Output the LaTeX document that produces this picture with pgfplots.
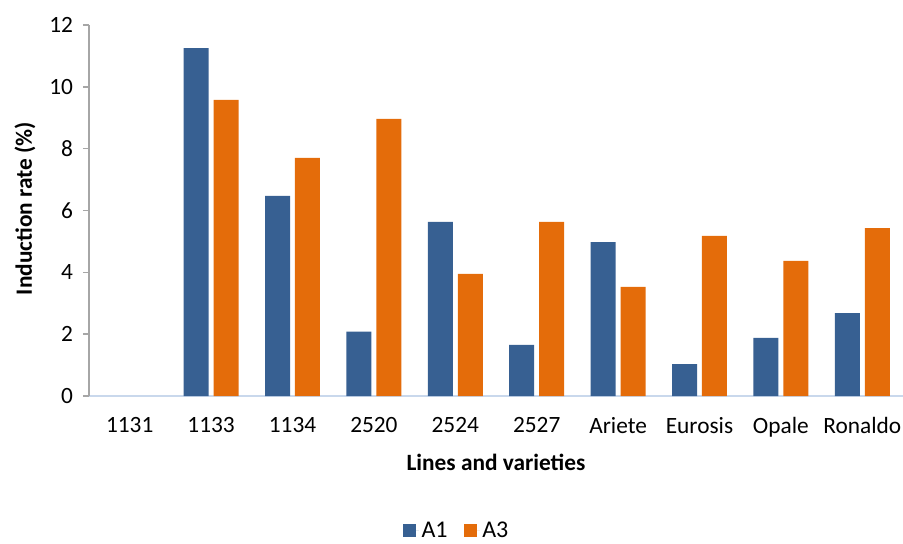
\documentclass[border=0pt]{standalone}
\usepackage{pgfplots}
\pgfplotsset{compat=1.18}
\usepackage{fontspec}
\setmainfont{Carlito}
\definecolor{cA}{HTML}{376092}
\definecolor{cB}{HTML}{E46C0A}
\definecolor{yax}{HTML}{A6A6A6}
\definecolor{xax}{HTML}{C9D8EC}
\begin{document}
\begin{tikzpicture}[x=0.75pt,y=0.75pt]
\useasboundingbox (-89,-147) rectangle (814,396);
\begin{axis}[
  scale only axis,
  width=610.5pt, height=278.25pt,
  ybar, bar width=0.307, 
  xmin=-0.5, xmax=9.5, ymin=0, ymax=12,
  ytick={0,2,...,12},
  xtick={0,...,9},
  xticklabels={1131,1133,1134,2520,2524,2527,Ariete,Eurosis,Opale,Ronaldo},
  axis x line*=bottom, axis y line*=left,
  x axis line style={draw=xax, line width=1.2pt, -},
  y axis line style={draw=yax, line width=1.2pt, -},
  every y tick/.style={draw=yax, line width=1.2pt},
  major tick length=4.5pt,
  xtick style={draw=none},
  ytick pos=left,
  tick align=outside,
  ticklabel style={font=\fontsize{17.5}{20}\selectfont},
  /pgf/number format/assume math mode=true,
  yticklabel style={xshift=-4pt},
  xticklabel style={yshift=-8pt},
  ylabel={\textbf{Induction rate (\%)}},
  xlabel={\textbf{Lines and varieties}},
  label style={font=\fontsize{17.5}{20}\selectfont},
  ylabel style={at={(axis description cs:-0.0786,0.505)}, anchor=center},
  xlabel style={yshift=-6pt},
  legend style={draw=none, fill=none, at={(0.452,-0.362)}, anchor=center, legend columns=2,
    font=\fontsize{18}{20}\selectfont, inner sep=1pt,
    /tikz/every even column/.append style={column sep=10pt}},
  legend image code/.code={\fill[#1] (0pt,-5pt) rectangle (10pt,5pt); \path (0pt,0pt) rectangle (12pt,0pt);},
  clip=false,
]
\addplot[fill=cA, draw=none, bar shift=-0.184] coordinates {
 (1,11.25) (2,6.47) (3,2.08) (4,5.63) (5,1.65) (6,4.98) (7,1.03) (8,1.88) (9,2.68)};
\addplot[fill=cB, draw=none, bar shift=0.184] coordinates {
 (1,9.58) (2,7.70) (3,8.96) (4,3.95) (5,5.63) (6,3.53) (7,5.18) (8,4.37) (9,5.43)};
\legend{A1,A3}
\end{axis}
\end{tikzpicture}
\end{document}
